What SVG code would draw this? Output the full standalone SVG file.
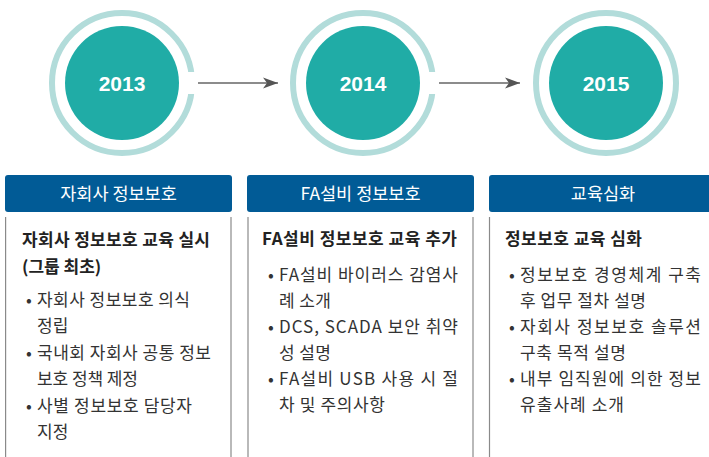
<svg xmlns="http://www.w3.org/2000/svg" width="709" height="457" viewBox="0 0 709 457">
<style>
.ring{fill:none;stroke:#b2dcda;stroke-width:6}
.core{fill:#20aca6}
.yr{font-family:"Liberation Sans",Arial,sans-serif;font-weight:bold;font-size:21px;fill:#fff;text-anchor:middle}
.hdr{fill:#015b96}
.htx{font-family:"Noto Sans CJK KR","Noto Sans",sans-serif;font-size:17.5px;fill:#fff;text-anchor:middle}
.side{stroke:#8a8a8a;stroke-width:1.2;fill:none}
.ttl{font-family:"Noto Sans CJK KR","Noto Sans",sans-serif;font-size:17px;font-weight:bold;fill:#222}
.bt{font-family:"Noto Sans CJK KR","Noto Sans",sans-serif;font-size:17px;fill:#333}
.line{stroke:#8c8c8c;stroke-width:2;fill:none}
</style>
<defs>
<marker id="ah" markerWidth="16" markerHeight="12" refX="15" refY="6" orient="auto" markerUnits="userSpaceOnUse">
<path d="M0,0.5 L15,6 L0,11.5 L4,6 Z" fill="#555"/>
</marker>
</defs>
<g id="connectors">
<line class="line" x1="189" y1="83" x2="278" y2="83" marker-end="url(#ah)"/>
<line class="line" x1="431" y1="83" x2="520" y2="83" marker-end="url(#ah)"/>
</g>
<g id="y2013">
<circle class="ring" cx="122" cy="83" r="70"/>
<rect x="186" y="72" width="12" height="22" fill="#fff"/>
<circle class="core" cx="122" cy="83" r="57"/>
<text class="yr" x="122" y="91">2013</text>
</g>
<g id="y2014">
<circle class="ring" cx="363" cy="83" r="70"/>
<rect x="427" y="72" width="12" height="22" fill="#fff"/>
<circle class="core" cx="363" cy="83" r="57"/>
<text class="yr" x="363" y="91">2014</text>
</g>
<g id="y2015">
<circle class="ring" cx="606" cy="83" r="70"/>
<circle class="core" cx="606" cy="83" r="57"/>
<text class="yr" x="606" y="91">2015</text>
</g>
<g id="col1">
<rect class="hdr" x="5" y="175" width="227" height="37" rx="3"/>
<text class="htx" x="118.5" y="199.5">자회사 정보보호</text>
<line class="side" x1="5.6" y1="217" x2="5.6" y2="457"/>
<line class="side" x1="231" y1="217" x2="231" y2="457"/>
<text class="ttl" x="22" y="246" textLength="188" lengthAdjust="spacing">자회사 정보보호 교육 실시</text>
<text class="ttl" x="22" y="273">(그룹 최초)</text>
<text class="bt" x="26" y="306">•</text>
<text class="bt" x="37" y="306" textLength="153" lengthAdjust="spacing">자회사 정보보호 의식</text>
<text class="bt" x="37" y="332">정립</text>
<text class="bt" x="26" y="359">•</text>
<text class="bt" x="37" y="359" textLength="174" lengthAdjust="spacing">국내회 자회사 공통 정보</text>
<text class="bt" x="37" y="385" textLength="101" lengthAdjust="spacing">보호 정책 제정</text>
<text class="bt" x="26" y="412">•</text>
<text class="bt" x="37" y="412" textLength="155" lengthAdjust="spacing">사별 정보보호 담당자</text>
<text class="bt" x="37" y="438">지정</text>
</g>
<g id="col2">
<rect class="hdr" x="247" y="175" width="227" height="37" rx="3"/>
<text class="htx" x="360.5" y="199.5">FA설비 정보보호</text>
<line class="side" x1="248" y1="217" x2="248" y2="457"/>
<line class="side" x1="473" y1="217" x2="473" y2="457"/>
<text class="ttl" x="262" y="245" textLength="195" lengthAdjust="spacing">FA설비 정보보호 교육 추가</text>
<text class="bt" x="268" y="281">•</text>
<text class="bt" x="279" y="281" textLength="179" lengthAdjust="spacing">FA설비 바이러스 감염사</text>
<text class="bt" x="279" y="307" textLength="52" lengthAdjust="spacing">례 소개</text>
<text class="bt" x="268" y="333">•</text>
<text class="bt" x="279" y="333" textLength="179" lengthAdjust="spacing">DCS, SCADA 보안 취약</text>
<text class="bt" x="279" y="359" textLength="52" lengthAdjust="spacing">성 설명</text>
<text class="bt" x="268" y="385">•</text>
<text class="bt" x="279" y="385" textLength="179" lengthAdjust="spacing">FA설비 USB 사용 시 절</text>
<text class="bt" x="279" y="411" textLength="106" lengthAdjust="spacing">차 및 주의사항</text>
</g>
<g id="col3">
<rect class="hdr" x="489" y="175" width="228" height="37" rx="3"/>
<text class="htx" x="603" y="199.5">교육심화</text>
<line class="side" x1="489.5" y1="217" x2="489.5" y2="457"/>
<text class="ttl" x="505" y="245" textLength="137" lengthAdjust="spacing">정보보호 교육 심화</text>
<text class="bt" x="509" y="281">•</text>
<text class="bt" x="520" y="281" textLength="181" lengthAdjust="spacing">정보보호 경영체계 구축</text>
<text class="bt" x="520" y="307" textLength="126" lengthAdjust="spacing">후 업무 절차 설명</text>
<text class="bt" x="509" y="333">•</text>
<text class="bt" x="520" y="333" textLength="181" lengthAdjust="spacing">자회사 정보보호 솔루션</text>
<text class="bt" x="520" y="359" textLength="106" lengthAdjust="spacing">구축 목적 설명</text>
<text class="bt" x="509" y="385">•</text>
<text class="bt" x="520" y="385" textLength="181" lengthAdjust="spacing">내부 임직원에 의한 정보</text>
<text class="bt" x="520" y="411" textLength="104" lengthAdjust="spacing">유출사례 소개</text>
</g>
</svg>
